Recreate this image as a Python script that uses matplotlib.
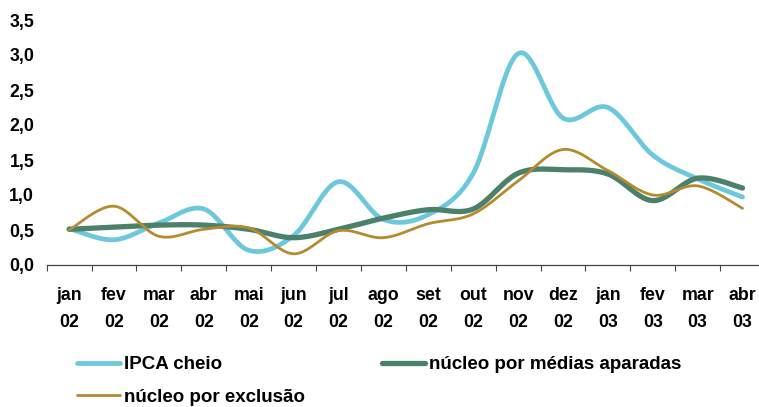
import numpy as np
import matplotlib
matplotlib.use("Agg")
import matplotlib.pyplot as plt

months = ["jan", "fev", "mar", "abr", "mai", "jun", "jul", "ago", "set", "out", "nov", "dez",
          "jan", "fev", "mar", "abr"]
years = ["02"] * 12 + ["03"] * 4

ipca_cheio = [0.52, 0.36, 0.60, 0.80, 0.21, 0.42, 1.19, 0.65, 0.72, 1.31, 3.02, 2.10,
              2.25, 1.57, 1.23, 0.97]
medias_aparadas = [0.51, 0.54, 0.57, 0.57, 0.51, 0.39, 0.51, 0.67, 0.79, 0.80, 1.31, 1.36,
                   1.30, 0.92, 1.24, 1.10]
exclusao = [0.50, 0.84, 0.41, 0.51, 0.53, 0.16, 0.49, 0.39, 0.59, 0.73, 1.20, 1.65,
            1.35, 1.00, 1.13, 0.81]

yticks = [0.0, 0.5, 1.0, 1.5, 2.0, 2.5, 3.0, 3.5]

C_BLUE = "#6CC8DA"
C_GREEN = "#4B806A"
C_GOLD = "#B48B2E"

plt.rcParams["font.family"] = ["Liberation Sans", "DejaVu Sans"]
plt.rcParams["font.weight"] = "bold"


def smooth(y, n=24):
    """Catmull-Rom (Excel-like) smoothing through the given points."""
    y = np.asarray(y, dtype=float)
    x = np.arange(len(y), dtype=float)
    px = np.concatenate([[x[0]], x, [x[-1]]])
    py = np.concatenate([[y[0]], y, [y[-1]]])
    xs, ys = [], []
    t = np.linspace(0, 1, n, endpoint=False)
    for i in range(1, len(px) - 2):
        p0x, p1x, p2x, p3x = px[i - 1], px[i], px[i + 1], px[i + 2]
        p0y, p1y, p2y, p3y = py[i - 1], py[i], py[i + 1], py[i + 2]
        c1x = p1x + (p2x - p0x) / 6
        c1y = p1y + (p2y - p0y) / 6
        c2x = p2x - (p3x - p1x) / 6
        c2y = p2y - (p3y - p1y) / 6
        b0 = (1 - t) ** 3
        b1 = 3 * (1 - t) ** 2 * t
        b2 = 3 * (1 - t) * t ** 2
        b3 = t ** 3
        xs.append(b0 * p1x + b1 * c1x + b2 * c2x + b3 * p2x)
        ys.append(b0 * p1y + b1 * c1y + b2 * c2y + b3 * p2y)
    xs.append([x[-1]])
    ys.append([y[-1]])
    return np.concatenate(xs), np.concatenate(ys)


W, H = 759, 407
fig = plt.figure(figsize=(W / 100, H / 100), dpi=100)
ax = fig.add_axes([46.7 / W, (H - 265) / H, (765 - 46.7) / W, (265 - 20) / H])

sx, sy = smooth(ipca_cheio)
l1, = ax.plot(sx, sy, color=C_BLUE, lw=3.4, solid_capstyle="round", label="IPCA cheio")
sx, sy = smooth(medias_aparadas)
l2, = ax.plot(sx, sy, color=C_GREEN, lw=3.8, solid_capstyle="round",
              label="núcleo por médias aparadas")
sx, sy = smooth(exclusao)
l3, = ax.plot(sx, sy, color=C_GOLD, lw=2.0, solid_capstyle="round",
              label="núcleo por exclusão")

ax.set_xlim(-0.5, len(months) - 0.5)
ax.set_ylim(0, 3.5)

ax.set_yticks(yticks)
ax.set_yticklabels([f"{v:.1f}".replace(".", ",") for v in yticks],
                   fontsize=12.8, fontweight="bold")
ax.tick_params(axis="y", length=0, pad=9)

ax.set_xticks(np.arange(len(months)))
ax.set_xticklabels([f"{m}\n{y}" for m, y in zip(months, years)],
                   fontsize=12.8, fontweight="bold", linespacing=1.75)
ax.set_xticks(np.arange(len(months) + 1) - 0.5, minor=True)
ax.tick_params(axis="x", which="major", length=0, pad=16)
ax.tick_params(axis="x", which="minor", length=4, width=0.8, color="#444444")

for s in ["left", "top", "right"]:
    ax.spines[s].set_visible(False)
ax.spines["bottom"].set_color("#444444")
ax.spines["bottom"].set_linewidth(0.9)

leg = fig.legend(handles=[l1, l3, l2], ncol=2, loc="upper left",
                 bbox_to_anchor=(77 / W, 1 - 356 / H), frameon=False,
                 prop={"size": 13.5, "weight": "bold"},
                 handlelength=2.3, handletextpad=0.22, columnspacing=4.1,
                 labelspacing=0.82, borderpad=0, borderaxespad=0)

fig.savefig("out.png", dpi=100)
